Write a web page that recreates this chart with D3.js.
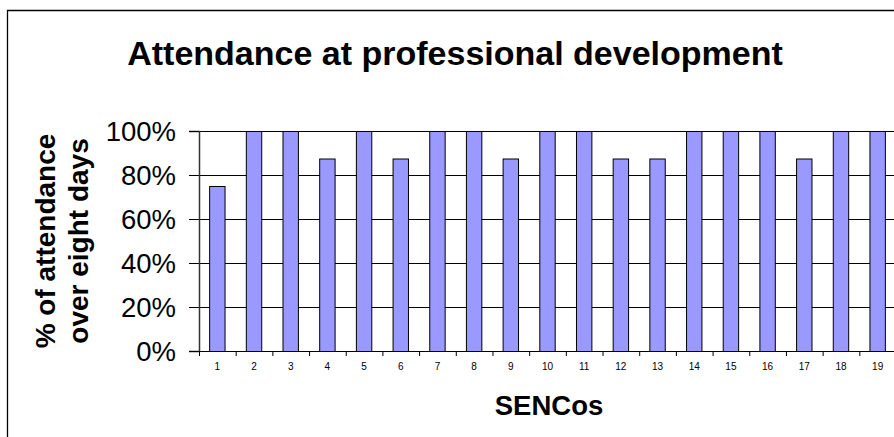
<!DOCTYPE html>
<html>
<head>
<meta charset="utf-8">
<script src="https://cdn.jsdelivr.net/npm/d3@7"></script>
<style>
  body { margin: 0; background: #fff; }
  svg { display: block; font-family: "Liberation Sans", Arial, sans-serif; }
</style>
</head>
<body>
<svg></svg>
<script>
// data
const sencos = ["1","2","3","4","5","6","7","8","9","10","11","12","13","14","15","16","17","18","19"];
const attendance = [0.75, 1, 1, 0.875, 1, 0.875, 1, 1, 0.875, 1, 1, 0.875, 0.875, 1, 1, 1, 0.875, 1, 1];
const yTicks = [0, 0.2, 0.4, 0.6, 0.8, 1];

const w = 894, h = 437;
const margin = { top: 131, left: 199, right: -2, bottom: 86 };
const innerWidth = w - margin.left - margin.right;
const innerHeight = h - margin.top - margin.bottom;

const svg = d3.select("svg")
  .attr("width", w)
  .attr("height", h)
  .attr("viewBox", `0 0 ${w} ${h}`);

// outer chart border, only top and left edges are in the picture
svg.append("path")
  .attr("d", `M7.5,${h} V10.5 H${w}`)
  .attr("fill", "none").attr("stroke", "#000").attr("stroke-width", 1.3);

const g = svg.append("g")
  .attr("transform", `translate(${margin.left}, ${margin.top})`);

const xScale = d3.scaleBand()
  .domain(sencos)
  .range([0, innerWidth])
  .paddingInner(0.58)
  .paddingOuter(0.29);

const yScale = d3.scaleLinear()
  .domain([0, 1])
  .range([innerHeight, 0]);

// gridlines
g.selectAll(".grid")
  .data(yTicks.filter(d => d > 0))
  .enter().append("line")
  .attr("x1", 0).attr("x2", innerWidth)
  .attr("y1", d => yScale(d) + 0.5).attr("y2", d => yScale(d) + 0.5)
  .attr("stroke", "#000").attr("stroke-width", 1);

// bars
g.selectAll(".bar")
  .data(attendance)
  .enter().append("rect")
  .attr("x", (d, i) => xScale(sencos[i]))
  .attr("y", d => yScale(d) + 0.5)
  .attr("width", xScale.bandwidth())
  .attr("height", d => innerHeight - yScale(d))
  .attr("fill", "#9999ff")
  .attr("stroke", "#000")
  .attr("stroke-width", 1);

// y axis
const yAxis = g.append("g")
  .call(d3.axisLeft(yScale).tickValues(yTicks).tickFormat(d3.format(".0%")).tickSize(10).tickPadding(13));
yAxis.select(".domain").attr("stroke", "#333").attr("stroke-width", 1.5);
yAxis.selectAll(".tick line").attr("stroke", "#000");
yAxis.selectAll("text")
  .attr("font-size", 27.5)
  .attr("font-family", "Liberation Sans, Arial, sans-serif")
  .attr("fill", "#000")
  .attr("dy", "0.36em");

// x axis: ticks sit between categories, labels under each bar
const offset = xScale.step() * xScale.paddingOuter();
const xAxis = g.append("g").attr("transform", `translate(0,${innerHeight})`);
xAxis.append("line")
  .attr("x1", 0).attr("x2", innerWidth).attr("y1", 0.5).attr("y2", 0.5)
  .attr("stroke", "#000");
xAxis.selectAll(".sep")
  .data(sencos)
  .enter().append("line")
  .attr("x1", d => xScale(d) - offset + 0.5)
  .attr("x2", d => xScale(d) - offset + 0.5)
  .attr("y1", 0).attr("y2", 5)
  .attr("stroke", "#000");
xAxis.selectAll(".lbl")
  .data(sencos)
  .enter().append("text")
  .attr("x", d => xScale(d) + xScale.bandwidth() / 2)
  .attr("y", 19)
  .attr("text-anchor", "middle")
  .attr("font-size", 10)
  .text(d => d);

// titles
svg.append("text")
  .attr("x", 455).attr("y", 65)
  .attr("text-anchor", "middle")
  .attr("font-size", 34).attr("font-weight", "bold")
  .text("Attendance at professional development");

svg.append("text")
  .attr("x", 549).attr("y", 415)
  .attr("text-anchor", "middle")
  .attr("font-size", 27.5).attr("font-weight", "bold")
  .text("SENCos");

const yTitle = svg.append("text")
  .attr("transform", "translate(0,241) rotate(-90)")
  .attr("text-anchor", "middle")
  .attr("font-size", 28).attr("font-weight", "bold");
yTitle.append("tspan").attr("x", 0).attr("y", 55).text("% of attendance");
yTitle.append("tspan").attr("x", 0).attr("y", 88).text("over eight days");
</script>
</body>
</html>
